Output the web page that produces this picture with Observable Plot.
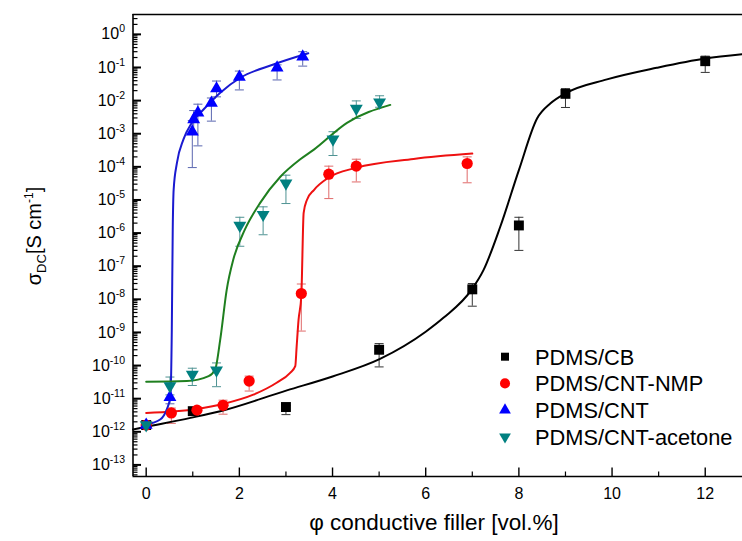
<!DOCTYPE html>
<html><head><meta charset="utf-8">
<script src="https://cdn.jsdelivr.net/npm/d3@7"></script>
<script src="https://cdn.jsdelivr.net/npm/@observablehq/plot@0.6"></script>
<style>
body{margin:0;background:#fff;}
#chart{position:relative;width:742px;height:541px;}
</style></head><body><div id="chart"></div>
<script>
// ---------- data ----------
const seriesNames = ["PDMS/CB", "PDMS/CNT-NMP", "PDMS/CNT", "PDMS/CNT-acetone"];

// PDMS/CB (black squares)
const cbX  = [0, 1, 3, 5, 7, 8, 9, 12];
const cbY  = [1.6e-12, 4.2e-12, 5.6e-12, 3.0e-10, 2.0e-8, 1.7e-6, 1.6e-2, 0.155];
const cbLo = [1.3e-12, 3.5e-12, 3.3e-12, 9.1e-11, 6.2e-9, 3.0e-7, 6.2e-3, 7.1e-2];
const cbHi = [1.9e-12, 5.0e-12, 6.3e-12, 4.6e-10, 3.0e-8, 3.0e-6, 2.3e-2, 0.22];

// PDMS/CNT-NMP (red circles)
const nmpX  = [0, 0.54, 1.09, 1.65, 2.21, 3.33, 3.92, 4.51, 6.89];
const nmpY  = [1.6e-12, 3.7e-12, 4.5e-12, 6.3e-12, 3.4e-11, 1.5e-8, 6.0e-5, 1.05e-4, 1.26e-4];
const nmpLo = [1.3e-12, 1.8e-12, 3.8e-12, 3.4e-12, 1.7e-11, 1.1e-9, 1.1e-5, 3.5e-5, 3.3e-5];
const nmpHi = [1.9e-12, 5.2e-12, 5.3e-12, 9.0e-12, 4.8e-11, 2.9e-8, 1.05e-4, 1.7e-4, 2.0e-4];

// PDMS/CNT (blue triangles)
const cntX  = [0, 0.51, 0.99, 1.02, 1.11, 1.40, 1.51, 2.0, 2.81, 3.36];
const cntY  = [1.6e-12, 1.1e-11, 1.15e-3, 2.7e-3, 4.3e-3, 8.5e-3, 2.3e-2, 5.2e-2, 9.8e-2, 0.21];
const cntLo = [1.3e-12, 7.0e-12, 9.5e-5, 1.0e-3, 4.3e-4, 2.4e-3, 1.3e-2, 2.1e-2, 4.2e-2, 0.11];
const cntHi = [1.9e-12, 3.2e-11, 2.5e-3, 5.0e-3, 7.8e-3, 1.2e-2, 3.9e-2, 7.8e-2, 1.2e-1, 0.30];

// PDMS/CNT-acetone (teal inverted triangles)
const aceX  = [0, 0.51, 0.99, 1.51, 2.01, 2.51, 3.0, 4.01, 4.51, 5.01];
const aceY  = [1.6e-12, 2.4e-11, 5.4e-11, 7.2e-11, 1.7e-6, 3.6e-6, 3.2e-5, 6.8e-4, 5.8e-3, 8.9e-3];
const aceLo = [1.3e-12, 1.3e-11, 2.5e-11, 2.3e-11, 4.0e-7, 8.9e-7, 7.8e-6, 2.2e-4, 2.9e-3, 6.3e-3];
const aceHi = [1.9e-12, 4.5e-11, 8.3e-11, 1.2e-10, 3.0e-6, 6.2e-6, 5.6e-5, 1.15e-3, 9.8e-3, 1.4e-2];

// fitted curves (x, log10 sigma)
const cbFitX = [-0.28, 0, 0.95, 1.59, 3.02, 4.0, 5.02, 6.0, 6.38, 6.99, 7.24, 7.6, 8.0, 8.39, 8.68, 9.0, 9.89, 10.96, 12.0, 12.8];
const cbFitE = [-11.93, -11.85, -11.58, -11.38, -10.75, -10.33, -9.80, -8.98, -8.56, -7.70, -7.12, -5.81, -4.10, -2.54, -2.08, -1.78, -1.36, -1.01, -0.73, -0.60];
const nmpFitX = [0, 1.09, 1.65, 2.3, 2.8, 3.09, 3.2, 3.23, 3.27, 3.33, 3.38, 3.45, 3.6, 3.91, 4.5, 5.74, 7.0];
const nmpFitE = [-11.43, -11.31, -11.16, -10.88, -10.52, -10.22, -10.02, -9.42, -8.63, -7.9, -5.39, -5.0, -4.7, -4.33, -4.03, -3.76, -3.60];
const cntFitX = [0, 0.3, 0.44, 0.52, 0.55, 0.57, 0.59, 0.66, 0.80, 0.98, 1.23, 1.59, 2.02, 2.73, 3.48];
const cntFitE = [-11.78, -11.63, -11.33, -10.93, -8.91, -5.89, -4.68, -3.88, -3.17, -2.67, -2.27, -1.76, -1.31, -0.91, -0.57];
const aceFitX = [0, 0.87, 1.34, 1.48, 1.59, 1.73, 1.87, 2.12, 2.45, 2.88, 3.30, 3.6, 4.31, 5.24];
const aceFitE = [-10.49, -10.47, -10.32, -10.12, -9.21, -7.70, -6.80, -5.89, -5.08, -4.30, -3.78, -3.48, -2.67, -2.13];

// axis ticks
const xTickMajor = [0, 2, 4, 6, 8, 10, 12];
const xTickMinor = [1, 3, 5, 7, 9, 11];
const yTickExp = [-13, -12, -11, -10, -9, -8, -7, -6, -5, -4, -3, -2, -1, 0];

// ---------- styling ----------
const FONT = "'Liberation Sans', Arial, Helvetica, sans-serif";
const markerColor = ["#000000", "#ff0000", "#0000ff", "#008080"];
const lineColor   = ["#000000", "#ee1111", "#1a1ad0", "#1f7f1f"];
const errColor    = ["#333333", "#e06a6a", "#5a66b0", "#4f9393"];

const invTriangle = {draw(ctx, size) {
  const y = Math.sqrt(size / (Math.sqrt(3) * 3));
  ctx.moveTo(0, y * 2); ctx.lineTo(-Math.sqrt(3) * y, -y); ctx.lineTo(Math.sqrt(3) * y, -y); ctx.closePath();
}};
const capSym = {draw(ctx) { ctx.moveTo(-4.5, 0); ctx.lineTo(4.5, 0); }};
const tickRight = len => ({draw(ctx) { ctx.moveTo(0, 0); ctx.lineTo(len, 0); }});
const tickUp = len => ({draw(ctx) { ctx.moveTo(0, 0); ctx.lineTo(0, -len); }});

const symbols = ["square", "circle", "triangle", invTriangle];
const radii = [5.6, 5.6, 4.8, 4.8];

function pts(X, Y, Lo, Hi) { return X.map((x, i) => ({x, y: Y[i], lo: Lo[i], hi: Hi[i]})); }
function fit(X, E) { return X.map((x, i) => ({x, y: Math.pow(10, E[i])})); }

const seriesPts = [pts(cbX, cbY, cbLo, cbHi), pts(nmpX, nmpY, nmpLo, nmpHi), pts(cntX, cntY, cntLo, cntHi), pts(aceX, aceY, aceLo, aceHi)];
const seriesFit = [fit(cbFitX, cbFitE), fit(nmpFitX, nmpFitE), fit(cntFitX, cntFitE), fit(aceFitX, aceFitE)];

const yMajor = yTickExp.map(e => Math.pow(10, e));
const yMinor = [];
for (let e = -14; e <= 0; e++) for (let m = 2; m <= 9; m++) yMinor.push(m * Math.pow(10, e));

const yDomain = [Math.pow(10, -13.35), Math.pow(10, 0.6)];
const xDomain = [-0.283, 12.8];
const yMinorIn = yMinor.filter(v => v > yDomain[0] && v < yDomain[1]);

const marks = [];
// error bars
seriesPts.forEach((d, i) => {
  marks.push(Plot.ruleX(d, {x: "x", y1: "lo", y2: "hi", stroke: errColor[i], strokeWidth: 1}));
  marks.push(Plot.dot(d, {x: "x", y: "lo", symbol: capSym, stroke: errColor[i], strokeWidth: 1, fill: "none"}));
  marks.push(Plot.dot(d, {x: "x", y: "hi", symbol: capSym, stroke: errColor[i], strokeWidth: 1, fill: "none"}));
});
// fitted lines
seriesFit.forEach((d, i) => {
  marks.push(Plot.line(d, {x: "x", y: "y", stroke: lineColor[i], strokeWidth: 2, curve: "monotone-x"}));
});
// markers
seriesPts.forEach((d, i) => {
  marks.push(Plot.dot(d, {x: "x", y: "y", symbol: symbols[i], r: radii[i], fill: markerColor[i], stroke: "none"}));
});
// frame lines (left, bottom, top)
marks.push(Plot.ruleX([xDomain[0]], {stroke: "#000", strokeWidth: 1.6}));
marks.push(Plot.ruleY([yDomain[0]], {stroke: "#000", strokeWidth: 1.6}));
marks.push(Plot.ruleY([yDomain[1] * 0.999], {stroke: "#000", strokeWidth: 1.6}));
// inward ticks
marks.push(Plot.dot(yMajor, {y: d => d, frameAnchor: "left", symbol: tickRight(8), stroke: "#000", strokeWidth: 2, fill: "none"}));
marks.push(Plot.dot(yMinorIn, {y: d => d, frameAnchor: "left", symbol: tickRight(4.5), stroke: "#000", strokeWidth: 1.2, fill: "none"}));
marks.push(Plot.dot(xTickMajor, {x: d => d, frameAnchor: "bottom", symbol: tickUp(9), stroke: "#000", strokeWidth: 1.4, fill: "none"}));
marks.push(Plot.dot(xTickMinor, {x: d => d, frameAnchor: "bottom", symbol: tickUp(5), stroke: "#000", strokeWidth: 1.2, fill: "none"}));
// axes (labels only)
marks.push(Plot.axisX({ticks: xTickMajor, tickSize: 0, tickPadding: 11, label: null, tickFormat: d => String(d)}));
marks.push(Plot.axisY({ticks: yMajor, tickSize: 0, tickPadding: 8, label: null, tickFormat: d => String(Math.round(Math.log10(d)))}));

const chart = Plot.plot({
  width: 742, height: 541,
  marginLeft: 132.5, marginRight: 0, marginTop: 14, marginBottom: 65,
  style: {fontFamily: FONT, fontSize: "16px", background: "white", color: "black", overflow: "visible"},
  x: {domain: xDomain},
  y: {type: "log", domain: yDomain},
  marks
});
document.getElementById("chart").appendChild(chart);

const svg = d3.select(chart);
// superscript exponents on y tick labels
svg.selectAll("g[aria-label='y-axis tick label'] text").each(function() {
  const e = this.textContent;
  const t = d3.select(this);
  t.text("10");
  t.append("tspan").attr("dy", "-7").attr("font-size", "10.5px").text(e);
});

// y axis title
const yl = svg.append("text")
  .attr("transform", "translate(41,236) rotate(-90)")
  .attr("text-anchor", "middle").attr("font-family", FONT).attr("font-size", "20px").attr("fill", "#000");
yl.append("tspan").text("σ");
yl.append("tspan").attr("dy", "5").attr("font-size", "13px").text("DC");
yl.append("tspan").attr("dy", "-5").text("[S cm");
yl.append("tspan").attr("dy", "-8").attr("font-size", "12px").text("-1");
yl.append("tspan").attr("dy", "8").text("]");

// x axis title
svg.append("text").attr("x", 434).attr("y", 530).attr("text-anchor", "middle")
  .attr("font-family", FONT).attr("font-size", "22.5px").attr("fill", "#000")
  .text("φ conductive filler [vol.%]");

// legend
const legendSyms = [d3.symbolSquare, d3.symbolCircle, d3.symbolTriangle, invTriangle];
const legendSize = [64, 80, 60, 60];
const lg = svg.append("g").attr("font-family", FONT).attr("font-size", "21.8px").attr("text-anchor", "start");
seriesNames.forEach((name, i) => {
  const cy = 356.7 + i * 26.7;
  lg.append("path").attr("transform", `translate(505,${cy})`)
    .attr("d", d3.symbol(legendSyms[i], legendSize[i])()).attr("fill", markerColor[i]);
  lg.append("text").attr("x", 535).attr("y", cy).attr("dy", "0.36em").attr("fill", "#000").text(name);
});
</script></body></html>
